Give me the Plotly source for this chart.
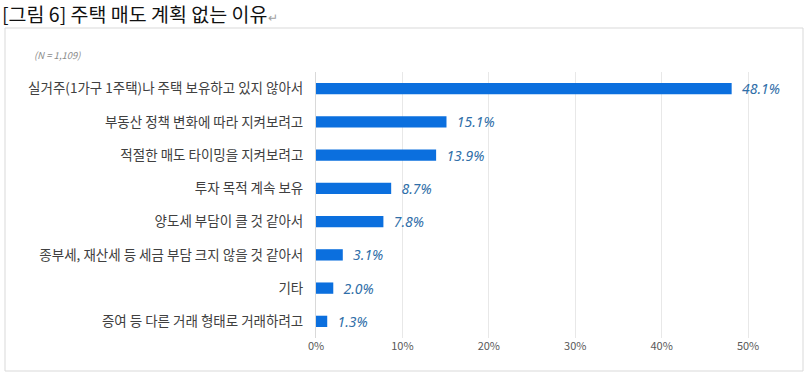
import plotly.graph_objects as go

categories = [
    "실거주(1가구 1주택)나 주택 보유하고 있지 않아서",
    "부동산 정책 변화에 따라 지켜보려고",
    "적절한 매도 타이밍을 지켜보려고",
    "투자 목적 계속 보유",
    "양도세 부담이 클 것 같아서",
    "종부세, 재산세 등 세금 부담 크지 않을 것 같아서",
    "기타",
    "증여 등 다른 거래 형태로 거래하려고",
]
values = [48.1, 15.1, 13.9, 8.7, 7.8, 3.1, 2.0, 1.3]
tick_vals = [0, 10, 20, 30, 40, 50]
tick_text = ["0%", "10%", "20%", "30%", "40%", "50%"]

W, H = 807, 376
L, R, T, B = 316, 774, 72, 338
XMAX = 53

fig = go.Figure(go.Bar(
    x=values, y=categories, orientation="h",
    marker=dict(color="#0b6fde", line=dict(width=0)),
    width=0.34,
    text=[f"{v:.1f}%" for v in values],
    textposition="outside",
    constraintext="none",
    textfont=dict(family="Noto Sans, Arial", size=14, color="#2f6ea8"),
    texttemplate="  <i>%{text}</i>",
    cliponaxis=False,
    hoverinfo="skip",
))

def px_x(x):
    return (x - L) / (R - L)

def py(y):
    return (B - y) / (B - T)

fig.update_layout(
    width=W, height=H,
    margin=dict(l=L, r=W - R, t=T, b=H - B, pad=0),
    paper_bgcolor="white", plot_bgcolor="white",
    showlegend=False,
    font=dict(family="Noto Sans CJK KR", color="#404040", size=13),
    xaxis=dict(range=[0, XMAX], tickvals=tick_vals, ticktext=tick_text,
               showgrid=True, gridcolor="#e8e8e8", gridwidth=1,
               zeroline=False, showline=False, ticks="", automargin=False,
               tickfont=dict(size=11, color="#595959", family="Noto Sans CJK KR"),
               fixedrange=True),
    yaxis=dict(autorange="reversed", showgrid=False, zeroline=False,
               showline=True, linecolor="#d9d9d9", linewidth=1,
               ticks="", ticklabelstandoff=9, automargin=False,
               tickfont=dict(size=13.5, color="#404040", family="Noto Sans CJK KR")),
    shapes=[dict(type="rect", xref="paper", yref="paper",
                 x0=px_x(5), x1=px_x(803), y0=py(371), y1=py(28),
                 line=dict(color="#d9d9d9", width=1), fillcolor="rgba(0,0,0,0)",
                 layer="below")],
    annotations=[
        dict(xref="paper", yref="paper", x=px_x(0), y=py(14), xanchor="left", yanchor="middle",
             text="[그림 6] 주택 매도 계획 없는 이유<span style='font-size:12px;color:#a0a0a0'>↵</span>",
             showarrow=False, font=dict(size=19.5, color="#111111", family="Noto Sans CJK KR")),
        dict(xref="paper", yref="paper", x=px_x(32), y=py(55), xanchor="left", yanchor="middle",
             text="<i>(N = 1,109)</i>", showarrow=False,
             font=dict(size=9.5, color="#8c8c8c", family="Noto Sans CJK KR")),
    ],
)

fig.write_html("out.html", config={"displayModeBar": False},
               post_script="document.body.style.margin='0';document.body.style.overflow='hidden';")
